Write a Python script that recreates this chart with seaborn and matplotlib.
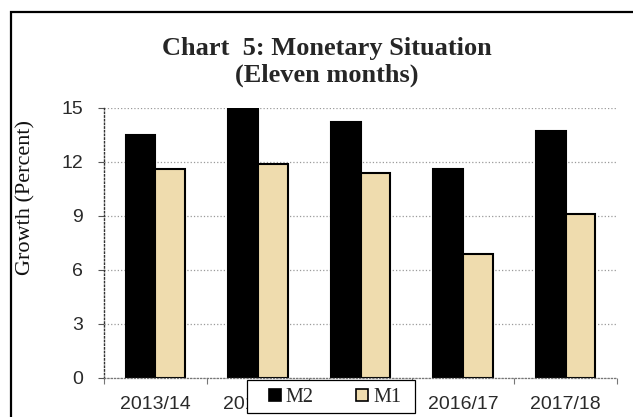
import matplotlib
matplotlib.use("Agg")
import matplotlib.pyplot as plt
import pandas as pd
import seaborn as sns
from matplotlib.patches import Rectangle
from matplotlib.lines import Line2D

years = ["2013/14", "2014/15", "2015/16", "2016/17", "2017/18"]
m2 = [13.5, 15.0, 14.2, 11.6, 13.7]
m1 = [11.6, 11.9, 11.4, 6.9, 9.1]
series = ["M2", "M1"]
yticks = [0, 3, 6, 9, 12, 15]

W, H = 633, 417
BLACK = "#000000"
TAN = "#EFDCAE"

df = pd.DataFrame({
    "year": years * 2,
    "growth": m2 + m1,
    "series": [series[0]] * len(years) + [series[1]] * len(years),
})

sns.set_style("white")
plt.rcParams["font.family"] = ["Liberation Sans", "DejaVu Sans"]

fig = plt.figure(figsize=(W / 100, H / 100), dpi=100)
ax = fig.add_axes([104 / W, 1 - 378 / H, 513 / W, 270 / H])

sns.barplot(data=df, x="year", y="growth", hue="series", hue_order=series,
            palette=[BLACK, TAN], width=0.58, edgecolor="black", linewidth=1.5,
            saturation=1, legend=False, ax=ax)

ax.set_ylim(0, 15)
ax.set_xlim(-0.5, len(years) - 0.5)
ax.set_yticks(yticks)
ax.yaxis.grid(True, linestyle=":", color="#9a9a9a", linewidth=0.9)
ax.set_axisbelow(True)

for s in ["top", "right"]:
    ax.spines[s].set_visible(False)
ax.spines["left"].set_linestyle(":")
ax.spines["left"].set_color("#333333")
ax.spines["left"].set_linewidth(1.0)
ax.spines["bottom"].set_linestyle(":")
ax.spines["bottom"].set_color("#777777")
ax.spines["bottom"].set_linewidth(0.9)

ax.tick_params(axis="y", direction="out", length=4, width=0.8, color="#555555",
               pad=11, labelsize=14, labelcolor="#2a2a2a", left=True)
ax.tick_params(axis="x", which="major", length=0, pad=13, labelsize=14,
               labelcolor="#2a2a2a")
ax.set_xticks([i - 0.5 for i in range(len(years) + 1)], minor=True)
ax.tick_params(axis="x", which="minor", direction="out", length=4, width=0.8,
               color="#777777", bottom=True)

ax.set_xlabel("")
ax.set_ylabel("Growth (Percent)", fontsize=16, family="Liberation Serif",
              color="#111111")
ax.yaxis.set_label_coords(-0.134, 0.668)

fig.text(327 / W, 1 - 62 / H, "Chart  5: Monetary Situation\n(Eleven months)",
         ha="center", va="center", fontsize=19, fontweight="bold",
         family="Liberation Serif", linespacing=1.2)

# outer chart frame (cut off at right and bottom)
fig.add_artist(Rectangle((11 / W, -0.1), 1.2, 1.1 - 12 / H, transform=fig.transFigure,
                         fill=False, edgecolor="black", linewidth=1.6, zorder=6))

# legend box sitting over the axis labels
fig.add_artist(Rectangle((247 / W, 1 - 413 / H), 168 / W, 33 / H,
                         transform=fig.transFigure, facecolor="white",
                         edgecolor="black", linewidth=0.9, zorder=4))
handles = [Line2D([], [], marker="s", linestyle="none", markersize=8.5,
                  markerfacecolor=c, markeredgecolor="black", markeredgewidth=1.2)
           for c in [BLACK, TAN]]
fig.legend(handles, series, loc="center", bbox_to_anchor=(334 / W, 1 - 397 / H),
           ncol=2, frameon=False, handlelength=0.8, handletextpad=0.15,
           columnspacing=2.0, prop={"family": "Liberation Serif", "size": 14.5})

fig.savefig("out.png", dpi=100)
